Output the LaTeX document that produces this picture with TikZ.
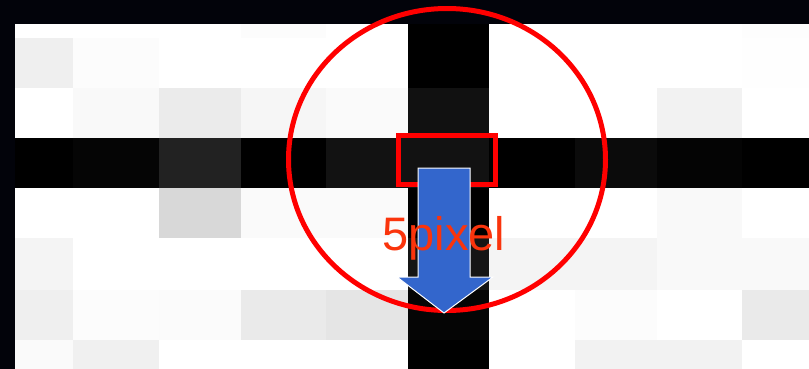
\documentclass[tikz,border=0pt]{standalone}
\usepackage{fontspec}
\setmainfont{Liberation Sans}
\definecolor{framedark}{RGB}{2,3,10}
\definecolor{ringred}{RGB}{255,0,0}
\definecolor{arrowblue}{RGB}{51,102,204}
\definecolor{labelred}{RGB}{250,52,12}
\tikzset{
  ring/.style={draw=ringred, line width=5pt},
  pixbox/.style={draw=ringred, line width=5pt},
  bigarrow/.style={fill=arrowblue, draw=white, line width=1pt, line join=miter},
  lbl/.style={text=labelred, inner sep=0pt, font=\fontsize{47}{50}\selectfont}
}
\begin{document}
\begin{tikzpicture}[x=1pt,y=-1pt]
\useasboundingbox (0,0) rectangle (809,369);
\fill[framedark] (0,0) rectangle (809,369);
\foreach \ya/\yb/\vals in {
  24/38/{255,255,255,252,255,0,255,255,255,253},
  38/88/{239,252,255,255,255,0,255,255,255,254},
  88/138/{255,249,235,246,250,17,255,255,242,255},
  138/188/{0,5,34,0,18,18,0,11,4,0},
  188/238/{255,255,216,250,250,0,255,255,249,255},
  238/290/{244,255,255,255,255,21,244,244,249,249},
  290/340/{239,252,251,234,229,5,255,252,255,234},
  340/369/{250,240,255,255,255,0,255,242,242,255}}{
  \foreach \v [count=\i from 0] in \vals {
    \pgfmathsetmacro\xa{{15,73,159,241,326,408,489,575,657,742,809}[\i]}
    \pgfmathsetmacro\xb{{15,73,159,241,326,408,489,575,657,742,809}[\i+1]}
    \definecolor{cellc}{RGB}{\v,\v,\v}
    \fill[cellc] (\xa,\ya) rectangle (\xb+0.4,\yb+0.4);
  }
}
% zoom ring
\draw[ring] (447,159.5) ellipse [x radius=158.5, y radius=151];
% highlighted pixel
\draw[pixbox] (398.5,135.5) rectangle (495.5,184.5);
% arrow
\draw[bigarrow] (418,168) -- (470,168) -- (470,277) -- (493,277) -- (444,313)
  -- (397,277) -- (418,277) -- cycle;
% label
\node[lbl, anchor=base] (label) at (444,250) {5pixel};
\end{tikzpicture}
\end{document}
